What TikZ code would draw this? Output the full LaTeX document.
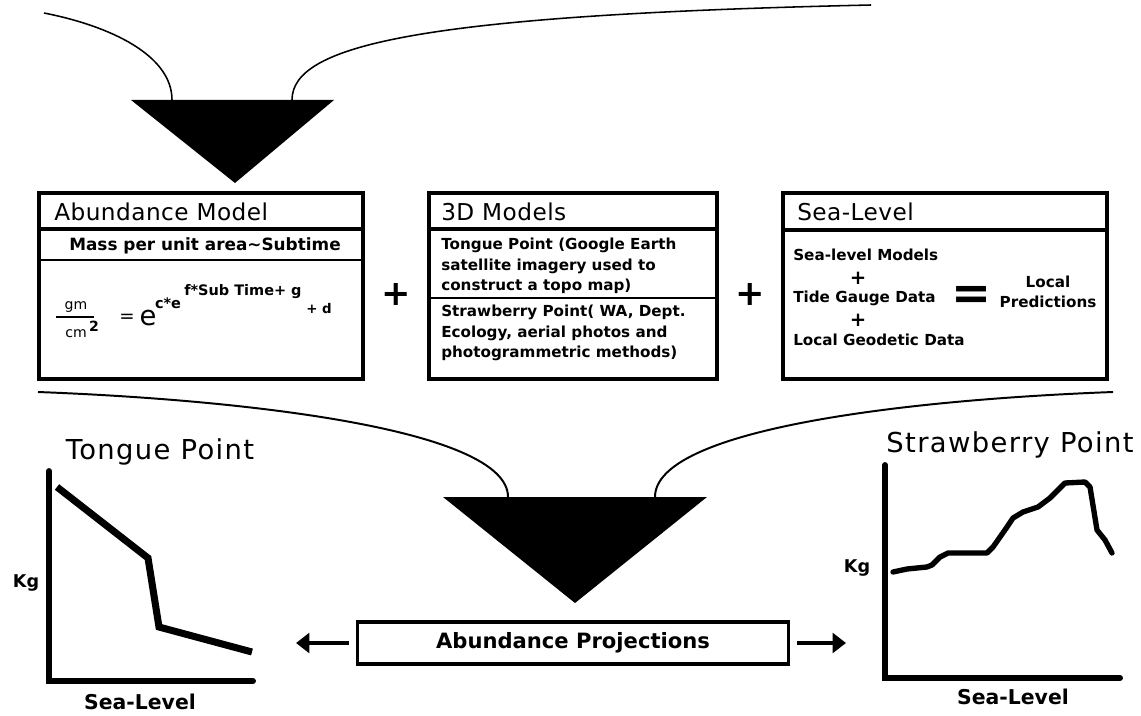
\documentclass[tikz,border=0pt]{standalone}
\usepackage{fontspec}
\setmainfont{DejaVu Sans}
\usetikzlibrary{arrows.meta,positioning}

\tikzset{
  panel/.style={line width=2.8pt},
  divider/.style={line width=2.6pt},
  thinrule/.style={line width=1.3pt},
  feed/.style={line width=1.1pt},
  heading/.style={anchor=west, inner sep=0pt, font=\fontsize{16.5}{19}\selectfont\addfontfeatures{LetterSpace=2}},
  body/.style={anchor=west, inner sep=0pt, align=left, font=\bfseries\fontsize{10.8}{14.6}\selectfont},
  bigplus/.style={inner sep=0pt, font=\bfseries\fontsize{25}{28}\selectfont},
  smallplus/.style={inner sep=0pt, font=\bfseries\fontsize{14}{16}\selectfont},
  equals/.style={inner sep=0pt, font=\bfseries\fontsize{34}{36}\selectfont},
  eqsm/.style={inner sep=0pt, font=\fontsize{10}{11}\selectfont},
  eqbf/.style={inner sep=0pt, font=\bfseries\fontsize{10.3}{12}\selectfont},
  projbox/.style={draw, line width=2.2pt, minimum width=10.78cm, minimum height=1.05cm, inner sep=0pt, font=\bfseries\fontsize{15}{18}\selectfont},
  pointer/.style={line width=2.8pt, -{Triangle[length=9.5pt,width=14pt]}, shorten <=5pt},
  plottitle/.style={inner sep=0pt, font=\fontsize{19.5}{23}\selectfont\addfontfeatures{LetterSpace=5}},
  axlabel/.style={inner sep=0pt, font=\bfseries\fontsize{14.5}{17}\selectfont},
  axis/.style={line width=4.2pt, line cap=round},
  trend/.style={line width=5pt},
  wiggle/.style={line width=3.8pt, line join=round, line cap=round}
}

\begin{document}
\begin{tikzpicture}[x=0.025cm,y=-0.025cm]
\useasboundingbox (0,0) rectangle (1141,715);

% upper funnel
\coordinate (srcL) at (44,13);
\coordinate (srcR) at (871,5);
\coordinate (inL) at (172,100);
\coordinate (inR) at (292,100);
\coordinate (fA1) at (131,100);
\coordinate (fA2) at (334,100);
\coordinate (fA3) at (235,183);
\fill (fA1) -- (fA2) -- (fA3) -- cycle;
\draw[feed] (srcL) .. controls (110,26) and (172,55) .. (inL);
\draw[feed] (inR) .. controls (292,45) and (420,15) .. (srcR);

% abundance model
\draw[panel] (39,193) rectangle (363,379);
\draw[divider] (39,229) -- (363,229);
\draw[thinrule] (39,260) -- (363,260);
\node[heading] (abTitle) at (54,212) {Abundance Model};
\node[body, anchor=center, font=\bfseries\fontsize{12}{14}\selectfont] (abSub) at (205,246) {Mass per unit area\textasciitilde Subtime};
\node[eqsm] (eqNum) at (76,307) {gm};
\draw[line width=0.9pt] (56,317) -- (94,317);
\node[eqsm] (eqDen) at (76,334) {cm};
\node[eqbf, font=\bfseries\fontsize{10}{12}\selectfont] (eqSq) at (94,326) {2};
\node[inner sep=0pt, font=\fontsize{13}{15}\selectfont] (eqRel) at (127,318) {=};
\node[inner sep=0pt, font=\fontsize{19.5}{22}\selectfont] (eqBase) at (148,318) {e};
\node[eqbf] (eqExp) at (168,303) {c*e};
\node[eqbf, anchor=west] (eqTop) at (184,292) {f*Sub Time+ g};
\node[eqbf, anchor=west, font=\bfseries\fontsize{9.5}{11}\selectfont] (eqTail) at (306,309) {+ d};

\node[bigplus] (plusA) at (396,294) {+};

% 3D models
\draw[panel] (429,193) rectangle (717,379);
\draw[divider] (429,229) -- (717,229);
\draw[thinrule] (429,298) -- (717,298);
\node[heading] (mdTitle) at (441,212) {3D Models};
\node[body] (mdTongue) at (441,266) {Tongue Point (Google Earth\\satellite imagery used to\\construct a topo map)};
\node[body] (mdStraw) at (441,333) {Strawberry Point( WA, Dept.\\Ecology, aerial photos and\\photogrammetric methods)};

\node[bigplus] (plusB) at (750,294) {+};

% sea level
\draw[panel] (783,193) rectangle (1107,379);
\draw[divider] (783,230) -- (1107,230);
\node[heading] (slTitle) at (797,212) {Sea-Level};
\node[body] (slModel) at (793,255) {Sea-level Models};
\node[smallplus] (slPlusA) at (858,278) {+};
\node[body] (slTide) at (793,298) {Tide Gauge Data};
\node[smallplus] (slPlusB) at (858,320) {+};
\node[body] (slGeo) at (793,340) {Local Geodetic Data};
\node[equals] (slEq) at (972,298) {=};
\node[body, anchor=center, align=center] (slLocal) at (1048,292) {Local\\Predictions};

% lower funnel
\coordinate (srcL2) at (38,392);
\coordinate (srcR2) at (1113,392);
\coordinate (inL2) at (508,497);
\coordinate (inR2) at (655,497);
\coordinate (fB1) at (443,497);
\coordinate (fB2) at (707,497);
\coordinate (fB3) at (575,603);
\fill (fB1) -- (fB2) -- (fB3) -- cycle;
\draw[feed, line width=1.4pt] (srcL2) .. controls (250,400) and (508,430) .. (inL2);
\draw[feed, line width=1.4pt] (srcR2) .. controls (900,400) and (655,430) .. (inR2);

\node[projbox] (proj) at (573,643) {Abundance Projections};
\coordinate (tipL) at (296,643);
\coordinate (tipR) at (846,643);
\draw[pointer] (proj.west) -- (tipL);
\draw[pointer] (proj.east) -- (tipR);

% tongue point plot
\node[plottitle] (tpTitle) at (160,452) {Tongue Point};
\coordinate (tpTop) at (49,471);
\coordinate (tpO) at (49,681);
\coordinate (tpEnd) at (253,681);
\draw[axis] (tpTop) -- (tpO) -- (tpEnd);
\draw[trend] (57,487) -- (148,558) -- (159,627) -- (252,652);
\node[axlabel, font=\bfseries\fontsize{12.5}{15}\selectfont] (tpKg) at (26,583) {Kg};
\node[axlabel] (tpSea) at (140,702) {Sea-Level};

% strawberry point plot
\node[plottitle] (spTitle) at (1010,445) {Strawberry Point};
\coordinate (spTop) at (885,465);
\coordinate (spO) at (885,678);
\coordinate (spEnd) at (1120,678);
\draw[axis] (spTop) -- (spO) -- (spEnd);
\draw[wiggle] (893,572) -- (907,569) -- (927,567) -- (932,565) -- (940,557) -- (948,553)
  -- (987,553) -- (993,547) -- (1007,527) -- (1013,518) -- (1023,512) -- (1038,507)
  -- (1050,498) -- (1065,483) -- (1085,482) -- (1090,487) -- (1097,530) -- (1105,540) -- (1112,553);
\node[axlabel, font=\bfseries\fontsize{12.5}{15}\selectfont] (spKg) at (857,568) {Kg};
\node[axlabel] (spSea) at (1013,697) {Sea-Level};
\end{tikzpicture}
\end{document}
